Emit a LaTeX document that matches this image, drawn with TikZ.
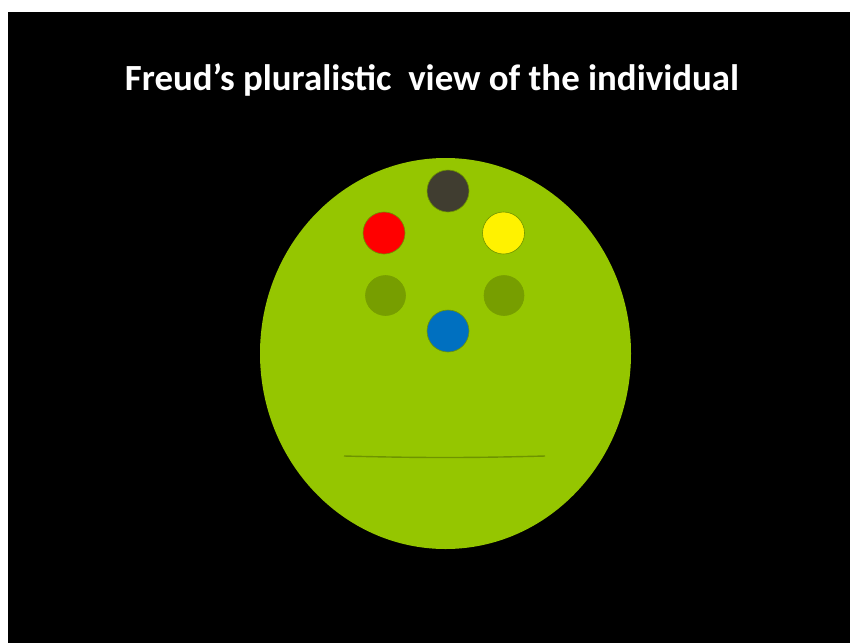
\documentclass[tikz,border=0pt]{standalone}
\usepackage{fontspec}
\setmainfont{Carlito}
\definecolor{facegreen}{HTML}{95C600}
\definecolor{darkdot}{HTML}{403D30}
\definecolor{olivedot}{HTML}{779E00}
\definecolor{bluedot}{HTML}{0070C0}
\definecolor{rimgreen}{HTML}{6E9400}
\tikzset{
  dot/.style={circle, minimum size=42pt, inner sep=0pt, draw=rimgreen, line width=0.6pt},
  mouth/.style={draw=rimgreen, line width=1.4pt},
}
\begin{document}
\begin{tikzpicture}[x=1pt,y=-1pt]
\useasboundingbox (0,0) rectangle (850,643);
\fill[white] (0,0) rectangle (850,643);
\fill[black] (8,12) rectangle (850,643);
\node[text=white, font=\bfseries] (title) at (432,79.5) {\resizebox{614pt}{!}{Freud’s pluralistic\ \ view of the individual}};
\fill[facegreen] (445.5,353.5) ellipse [x radius=185.5, y radius=195.5];
\node[dot, fill=darkdot] (top) at (448,191) {};
\node[dot, fill=red] (redd) at (384,233) {};
\node[dot, fill=yellow] (yel) at (503.5,233) {};
\node[dot, fill=olivedot, draw=olivedot, minimum size=40pt] (oll) at (385.5,295.5) {};
\node[dot, fill=olivedot, draw=olivedot, minimum size=40pt] (olr) at (504,295.5) {};
\node[dot, fill=bluedot] (blu) at (448,331) {};
\coordinate (ml) at (344,456);
\coordinate (mr) at (545,456);
\draw[mouth] (ml) .. controls (420,458) and (470,458) .. (mr);
\end{tikzpicture}
\end{document}
